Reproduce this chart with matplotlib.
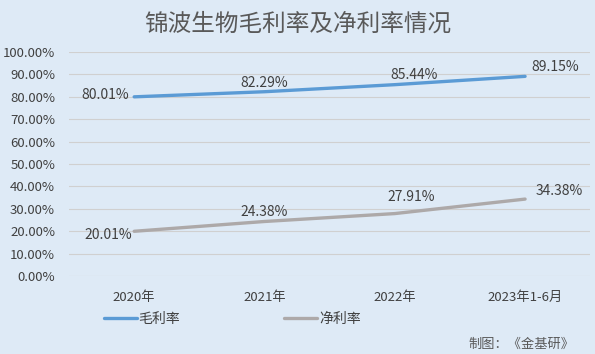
import matplotlib.pyplot as plt
from matplotlib.ticker import FuncFormatter

plt.rcParams['font.family'] = ['Noto Sans CJK SC', 'DejaVu Sans']

periods = ['2020年', '2021年', '2022年', '2023年1-6月']
gross_margin = [80.01, 82.29, 85.44, 89.15]
net_margin = [20.01, 24.38, 27.91, 34.38]

bg = '#DEEAF6'
blue = '#5B9BD5'
grey = '#ADA9A9'
text_c = '#404040'

fig = plt.figure(figsize=(5.95, 3.54), dpi=100, facecolor=bg)
ax = fig.add_axes([0.116, 0.22, 0.876, 0.633], facecolor=bg)

x = list(range(len(periods)))
ax.plot(x, gross_margin, color=blue, lw=2.4, solid_capstyle='round', label='毛利率')
ax.plot(x, net_margin, color=grey, lw=2.4, solid_capstyle='round', label='净利率')

# data labels: offsets in points
gm_off = [(-21, 1), (0, 6.5), (14, 7), (21.5, 6.5)]
nm_off = [(-19, -3), (0, 6.5), (11.5, 12), (24.5, 6)]
for i in x:
    ax.annotate(f'{gross_margin[i]:.2f}%', (i, gross_margin[i]), xytext=gm_off[i],
                textcoords='offset points', ha='center', va='center',
                fontsize=10, color=text_c)
    ax.annotate(f'{net_margin[i]:.2f}%', (i, net_margin[i]), xytext=nm_off[i],
                textcoords='offset points', ha='center', va='center',
                fontsize=10, color=text_c)

ax.set_xlim(-0.5, len(periods) - 0.5)
ax.set_ylim(0, 100)
ax.set_yticks(range(0, 101, 10))
ax.yaxis.set_major_formatter(FuncFormatter(lambda v, p: f'{v:.2f}%'))
ax.set_xticks(x)
ax.set_xticklabels(periods)
ax.grid(axis='y', color='#D0D0D0', lw=0.8)
ax.set_axisbelow(True)
for s in ax.spines.values():
    s.set_visible(False)
ax.tick_params(length=0, labelsize=9.5, labelcolor=text_c)
ax.tick_params(axis='y', pad=10)
ax.tick_params(axis='x', pad=11)

fig.suptitle('锦波生物毛利率及净利率情况', y=0.965, fontsize=17, color='#595959')
fig.legend(loc='lower center', bbox_to_anchor=(0.39, 0.045), ncol=2, frameon=False,
           fontsize=10, labelcolor=text_c, handlelength=2.4, handletextpad=0.1,
           columnspacing=7.5)
fig.text(0.965, 0.008, '制图：《金基研》', ha='right', va='bottom', fontsize=9.5, color='#595959')

fig.savefig('out.png', dpi=100, facecolor=bg)
